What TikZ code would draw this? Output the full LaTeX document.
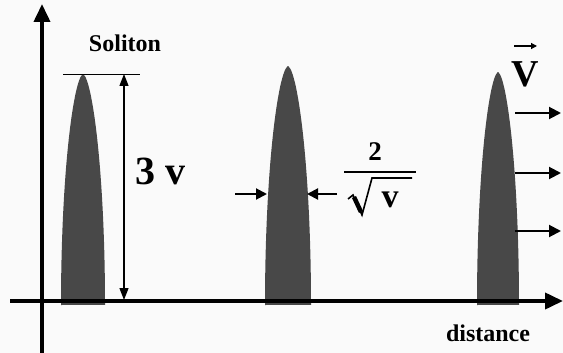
\documentclass[tikz,border=0pt]{standalone}
\usepackage{fontspec}
\setmainfont{Liberation Serif}
\usetikzlibrary{arrows.meta}
\definecolor{bg}{RGB}{250,250,250}
\definecolor{solfill}{RGB}{72,72,72}
\begin{document}
\begin{tikzpicture}[x=1pt,y=-1pt,
  axisarrow/.style={line width=3.8pt,-{Triangle[length=18pt,width=16pt]}},
  velarrow/.style={line width=2pt,-{Triangle[length=12pt,width=12pt]}},
  widtharrow/.style={line width=2pt,-{Triangle[length=11pt,width=11pt]}},
  heightarrow/.style={line width=1.3pt,{Triangle[length=12pt,width=9pt]}-{Triangle[length=12pt,width=9pt]}},
  lbl/.style={inner sep=0pt,font=\bfseries\fontsize{24}{24}\selectfont},
  biglbl/.style={inner sep=0pt,font=\bfseries\fontsize{40}{40}\selectfont},
  fraclbl/.style={inner sep=0pt,font=\bfseries\fontsize{27}{27}\selectfont},
  radlbl/.style={inner sep=0pt,font=\bfseries\fontsize{34}{34}\selectfont},
  veclbl/.style={inner sep=0pt,font=\bfseries\fontsize{38}{38}\selectfont},
]
\fill[bg] (0,0) rectangle (563,353);
\useasboundingbox (0,0) rectangle (563,353);

% solitons (tapered profile)
\foreach \cx/\yt/\hw in {83/74/22, 288/66/23, 498/72/21}{
  \fill[solfill]
    plot[domain=1:0.0005,samples=80,variable=\t] ({\cx-\hw*(\t*(2-\t))^0.6},{\yt+\t*(305-\yt)})
    -- plot[domain=0.0005:1,samples=80,variable=\t] ({\cx+\hw*(\t*(2-\t))^0.6},{\yt+\t*(305-\yt)})
    -- cycle;
}

% axes
\coordinate (ybot) at (42,353);
\coordinate (ytop) at (42,4);
\coordinate (xleft) at (10,301);
\coordinate (xright) at (563,301);
\draw[axisarrow] (ybot) -- (ytop);
\draw[axisarrow] (xleft) -- (xright);

% height marker
\coordinate (hl) at (63,74);
\coordinate (hr) at (140,74);
\draw[line width=0.9pt] (hl) -- (hr);
\coordinate (ha) at (124,74);
\coordinate (hb) at (124,300);
\draw[heightarrow] (ha) -- (hb);

\node[lbl] (soliton) at (125,43) {Soliton};
\node[biglbl] (three) at (160,171) {3 v};

% width arrows
\coordinate (wl0) at (235,194);
\coordinate (wl1) at (267,194);
\coordinate (wr0) at (337,194);
\coordinate (wr1) at (307,194);
\draw[widtharrow] (wl0) -- (wl1);
\draw[widtharrow] (wr0) -- (wr1);

% fraction 2/sqrt(v)
\node[fraclbl] (two) at (375,152) {2};
\coordinate (fb0) at (344,172);
\coordinate (fb1) at (416,172);
\draw[line width=1.8pt] (fb0) -- (fb1);
\coordinate (r0) at (348,199);
\coordinate (r1) at (353,195);
\coordinate (r2) at (362,215);
\coordinate (r3) at (372,178);
\coordinate (r4) at (412,178);
\draw[line width=1.6pt,line join=miter] (r0) -- (r1) -- (r2) -- (r3) -- (r4);
\draw[line width=4.5pt] (354,197) -- (361,212);
\node[radlbl] (rv) at (390,200) {v};

% velocity
\node[veclbl] (V) at (525,74) {V};
\coordinate (va0) at (514,46);
\coordinate (va1) at (537,46);
\draw[line width=1.2pt,-{Triangle[length=6pt,width=6pt]}] (va0) -- (va1);
\foreach \y/\n in {113/a,173/b,231/c}{
  \coordinate (v\n0) at (515,\y);
  \coordinate (v\n1) at (561,\y);
  \draw[velarrow] (v\n0) -- (v\n1);
}

\node[lbl] (dist) at (488,333) {distance};
\end{tikzpicture}
\end{document}
